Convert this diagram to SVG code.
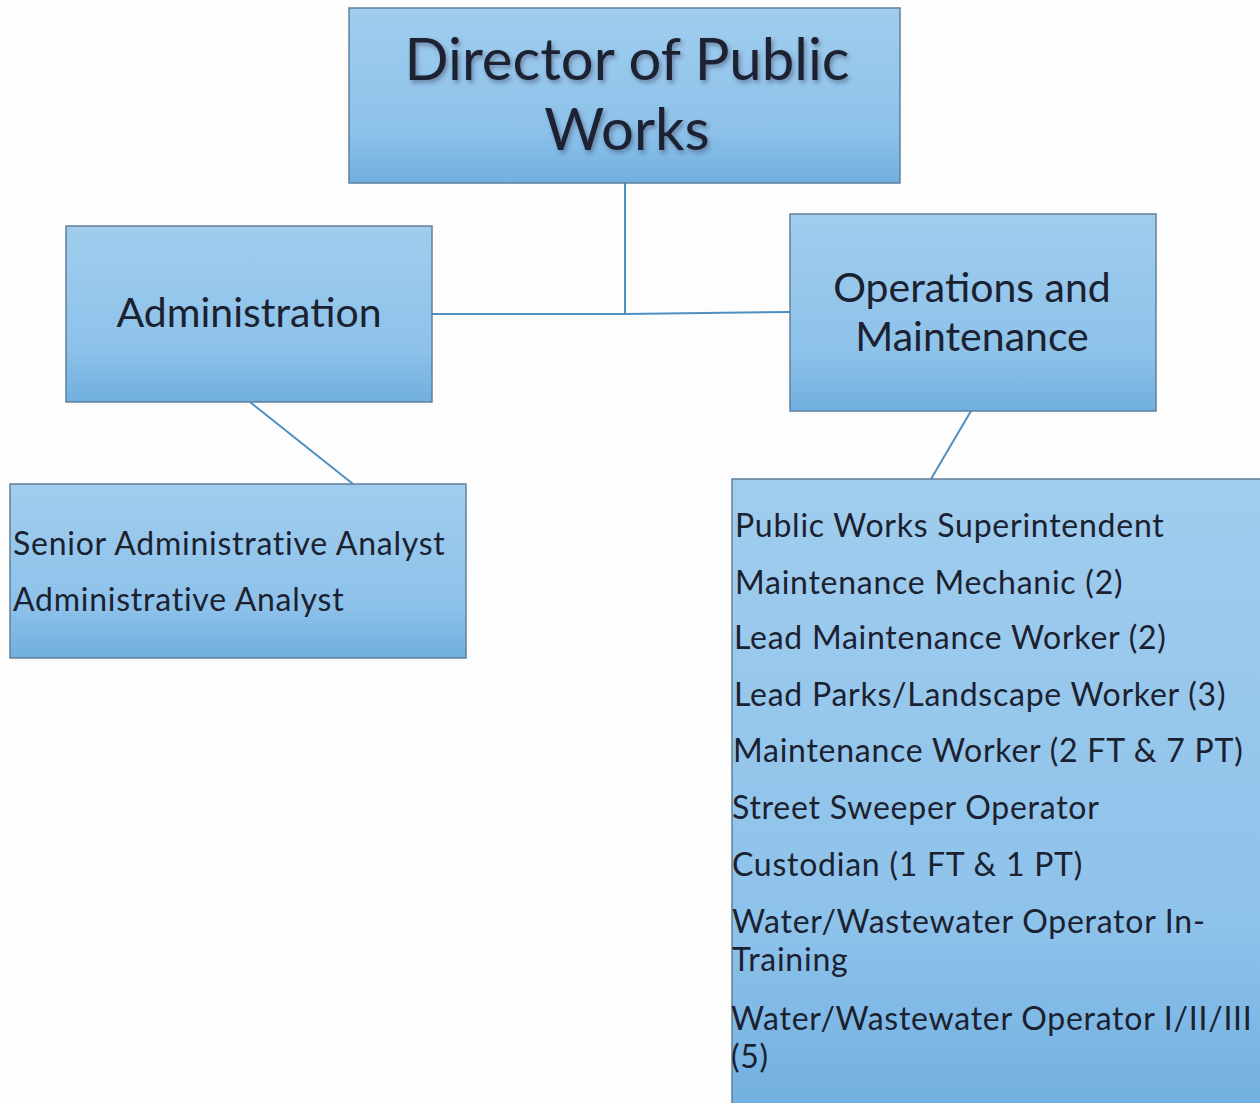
<svg xmlns="http://www.w3.org/2000/svg" width="1260" height="1103" viewBox="0 0 1260 1103">
<defs>
<linearGradient id="g" x1="0" y1="0" x2="0" y2="1">
<stop offset="0" stop-color="#a0cdee"/>
<stop offset="0.7" stop-color="#8dc2ea"/>
<stop offset="1" stop-color="#70afe0"/>
</linearGradient>
<filter id="sh" x="-5%" y="-20%" width="110%" height="140%">
<feDropShadow dx="2" dy="3" stdDeviation="2" flood-color="#335" flood-opacity="0.45"/>
</filter>
</defs>
<style>
.box{fill:url(#g);stroke:#62809a;stroke-width:1.5}
.t{font-family:Lato,"Liberation Sans",sans-serif;fill:#1c2130}
.c{text-anchor:middle}
.l{font-size:32px;letter-spacing:0.75px}
.conn{stroke:#4f8fc0;stroke-width:2;fill:none}
</style>
<rect width="1260" height="1103" fill="#fdfdfd"/>
<g id="connectors">
<polyline class="conn" points="625,183 625,314"/>
<polyline class="conn" points="432,314 625,314 790,312"/>
<line class="conn" x1="250" y1="402" x2="353" y2="484"/>
<line class="conn" x1="971" y1="411" x2="931" y2="479"/>
</g>
<g id="director">
<rect class="box" x="349" y="8" width="551" height="175"/>
<g filter="url(#sh)">
<text class="t c" x="627" y="80" font-size="58">Director of Public</text>
<text class="t c" x="627" y="150" font-size="58">Works</text>
</g>
</g>
<g id="administration">
<rect class="box" x="66" y="226" width="366" height="176"/>
<text class="t c" x="249" y="327" font-size="41">Administration</text>
</g>
<g id="operations">
<rect class="box" x="790" y="214" width="366" height="197"/>
<text class="t c" x="972" y="302" font-size="41">Operations and</text>
<text class="t c" x="972" y="351" font-size="41">Maintenance</text>
</g>
<g id="admin-staff">
<rect class="box" x="10" y="484" width="456" height="174"/>
<text class="t l" x="13" y="555">Senior Administrative Analyst</text>
<text class="t l" x="13" y="611">Administrative Analyst</text>
</g>
<g id="ops-staff">
<rect class="box" x="732" y="479" width="540" height="640"/>
<text class="t l" x="735" y="537">Public Works Superintendent</text>
<text class="t l" x="735" y="594">Maintenance Mechanic (2)</text>
<text class="t l" x="734" y="649">Lead Maintenance Worker (2)</text>
<text class="t l" x="734" y="706">Lead Parks/Landscape Worker (3)</text>
<text class="t l" x="733" y="762">Maintenance Worker (2 FT &amp; 7 PT)</text>
<text class="t l" x="732" y="819">Street Sweeper Operator</text>
<text class="t l" x="732" y="876">Custodian (1 FT &amp; 1 PT)</text>
<text class="t l" x="732" y="933">Water/Wastewater Operator In-</text>
<text class="t l" x="732" y="971">Training</text>
<text class="t l" x="731" y="1030">Water/Wastewater Operator I/II/III</text>
<text class="t l" x="731" y="1068">(5)</text>
</g>
</svg>
